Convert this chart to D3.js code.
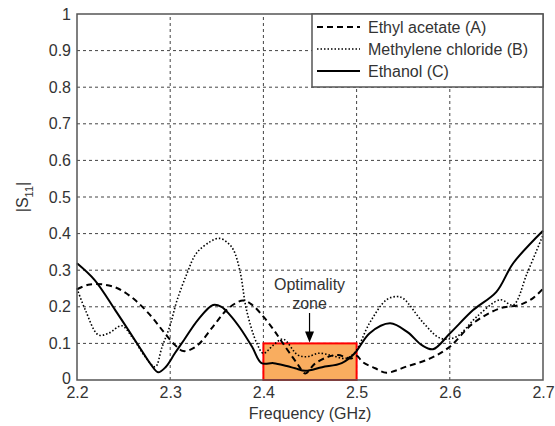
<!DOCTYPE html>
<html>
<head>
<meta charset="utf-8">
<script src="https://cdn.jsdelivr.net/npm/d3@7"></script>
<style>
  body { margin: 0; background: #fff; }
  text { font-family: "Liberation Sans", Arial, sans-serif; fill: #333; }
</style>
</head>
<body>
<div id="chart"></div>
<script>
// S11 curves: [frequency (GHz), |S11|]
var ethylAcetate = [
    [2.200, 0.248], [2.212, 0.260], [2.228, 0.261], [2.244, 0.250], [2.262, 0.219],
    [2.280, 0.173], [2.294, 0.128], [2.305, 0.096], [2.314, 0.079], [2.328, 0.092],
    [2.346, 0.146], [2.362, 0.195], [2.378, 0.217], [2.388, 0.205], [2.400, 0.173],
    [2.411, 0.137], [2.421, 0.100], [2.436, 0.046], [2.445, 0.018], [2.455, 0.044],
    [2.470, 0.064], [2.480, 0.068], [2.494, 0.059], [2.500, 0.066], [2.507, 0.048],
    [2.520, 0.032], [2.532, 0.020], [2.555, 0.038], [2.579, 0.059], [2.600, 0.091],
    [2.625, 0.155], [2.654, 0.196], [2.675, 0.205], [2.690, 0.225], [2.700, 0.250]
];
var methyleneChloride = [
    [2.200, 0.250], [2.209, 0.191], [2.223, 0.123], [2.234, 0.128], [2.248, 0.148],
    [2.259, 0.118], [2.273, 0.064], [2.284, 0.036], [2.291, 0.088], [2.300, 0.150],
    [2.307, 0.215], [2.318, 0.291], [2.328, 0.346], [2.343, 0.378], [2.353, 0.387],
    [2.362, 0.374], [2.368, 0.355], [2.375, 0.296], [2.382, 0.190], [2.393, 0.100],
    [2.400, 0.073], [2.411, 0.096], [2.421, 0.112], [2.437, 0.068], [2.448, 0.064],
    [2.459, 0.073], [2.472, 0.068], [2.488, 0.059], [2.498, 0.075], [2.514, 0.156],
    [2.532, 0.219], [2.543, 0.228], [2.550, 0.223], [2.572, 0.155], [2.590, 0.114],
    [2.607, 0.118], [2.629, 0.173], [2.654, 0.219], [2.668, 0.205], [2.683, 0.292],
    [2.700, 0.396]
];
var ethanol = [
    [2.200, 0.319], [2.219, 0.273], [2.241, 0.191], [2.255, 0.137], [2.269, 0.082],
    [2.280, 0.040], [2.287, 0.021], [2.295, 0.035], [2.305, 0.073], [2.315, 0.110],
    [2.330, 0.165], [2.346, 0.205], [2.355, 0.200], [2.364, 0.178], [2.375, 0.142],
    [2.388, 0.090], [2.398, 0.046], [2.411, 0.046], [2.425, 0.038], [2.434, 0.032],
    [2.445, 0.025], [2.463, 0.035], [2.484, 0.046], [2.498, 0.073], [2.514, 0.128],
    [2.536, 0.155], [2.555, 0.130], [2.570, 0.095], [2.582, 0.084], [2.600, 0.127],
    [2.625, 0.191], [2.650, 0.241], [2.668, 0.319], [2.700, 0.408]
];
var seriesNames = ["Ethyl acetate (A)", "Methylene chloride (B)", "Ethanol (C)"];
var xTicks = [2.2, 2.3, 2.4, 2.5, 2.6, 2.7];
var yTicks = [0, 0.1, 0.2, 0.3, 0.4, 0.5, 0.6, 0.7, 0.8, 0.9, 1];
var zone = { x0: 2.4, x1: 2.5, y0: 0, y1: 0.1 };

var width = 555, height = 426;
var margin = { left: 77, right: 12, top: 14, bottom: 46 };

var svg = d3.select("#chart")
    .append("svg")
    .attr("width", width)
    .attr("height", height);

var x = d3.scaleLinear().domain([2.2, 2.7]).range([margin.left, width - margin.right]);
var y = d3.scaleLinear().domain([0, 1]).range([height - margin.bottom, margin.top]);

var styles = [
    { dash: "6,4", width: 2 },
    { dash: "1.5,2", width: 1.6 },
    { dash: null, width: 2 }
];

//grid
svg.append("g")
    .selectAll("line.vg")
    .data(xTicks.slice(1, -1))
    .enter()
    .append("line")
    .attr("x1", d => x(d)).attr("x2", d => x(d))
    .attr("y1", y(0)).attr("y2", y(1))
    .attr("stroke", "#444")
    .attr("stroke-width", 1)
    .attr("stroke-dasharray", "3,3");
svg.append("g")
    .selectAll("line.hg")
    .data(yTicks.slice(1, -1))
    .enter()
    .append("line")
    .attr("x1", x(2.2)).attr("x2", x(2.7))
    .attr("y1", d => y(d)).attr("y2", d => y(d))
    .attr("stroke", "#444")
    .attr("stroke-width", 1)
    .attr("stroke-dasharray", "3,3");

//optimality zone
svg.append("rect")
    .attr("x", x(zone.x0))
    .attr("y", y(zone.y1))
    .attr("width", x(zone.x1) - x(zone.x0))
    .attr("height", y(zone.y0) - y(zone.y1))
    .attr("fill", "#f9ad5f")
    .attr("stroke", "#ff0000")
    .attr("stroke-width", 2);

//curves
var line = d3.line()
    .x(d => x(d[0]))
    .y(d => y(d[1]))
    .curve(d3.curveCatmullRom.alpha(0.5));

svg.append("g")
    .selectAll("path")
    .data([ethylAcetate, methyleneChloride, ethanol])
    .enter()
    .append("path")
    .attr("d", line)
    .attr("fill", "none")
    .attr("stroke", "#000")
    .attr("stroke-width", (d, i) => styles[i].width)
    .attr("stroke-dasharray", (d, i) => styles[i].dash);

//axes frame
svg.append("rect")
    .attr("x", x(2.2))
    .attr("y", y(1))
    .attr("width", x(2.7) - x(2.2))
    .attr("height", y(0) - y(1))
    .attr("fill", "none")
    .attr("stroke", "#555")
    .attr("stroke-width", 1.5);

var xAxis = svg.append("g")
    .attr("transform", "translate(0," + y(0) + ")")
    .call(d3.axisBottom(x).tickValues(xTicks).tickSize(0).tickPadding(7).tickFormat(d3.format(".1f")));
var yAxis = svg.append("g")
    .attr("transform", "translate(" + x(2.2) + ",0)")
    .call(d3.axisLeft(y).tickValues(yTicks).tickSize(0).tickPadding(6).tickFormat(d => d == 0 || d == 1 ? d : d3.format(".1f")(d)));
[xAxis, yAxis].forEach(function(a) {
    a.select(".domain").remove();
    a.selectAll("text")
        .style("font-size", "16px")
        .style("font-family", "'Liberation Sans', Arial, sans-serif")
        .attr("fill", "#333");
});
// keep the "0" clear of the "2.2" below it
yAxis.selectAll(".tick text").filter(d => d == 0).attr("dy", "0.2em");

//axis labels
svg.append("text")
    .attr("x", x(2.45))
    .attr("y", 419)
    .attr("text-anchor", "middle")
    .style("font-size", "16px")
    .text("Frequency (GHz)");

var yl = svg.append("text")
    .attr("transform", "translate(28," + y(0.5) + ") rotate(-90)")
    .attr("text-anchor", "middle")
    .style("font-size", "16px");
yl.append("tspan").text("|S");
yl.append("tspan").attr("dy", 5).style("font-size", "11px").text("11");
yl.append("tspan").attr("dy", -5).text("|");

//annotation
svg.append("text")
    .attr("x", x(2.4495))
    .attr("y", 290)
    .attr("text-anchor", "middle")
    .style("font-size", "16px")
    .text("Optimality");
svg.append("text")
    .attr("x", x(2.4495))
    .attr("y", 309)
    .attr("text-anchor", "middle")
    .style("font-size", "16px")
    .text("zone");
var ax = x(2.4495), ay = y(zone.y1);
svg.append("line")
    .attr("x1", ax).attr("x2", ax)
    .attr("y1", 313).attr("y2", ay - 10)
    .attr("stroke", "#000")
    .attr("stroke-width", 1.2);
svg.append("path")
    .attr("d", "M" + (ax - 4.5) + "," + (ay - 12) + "L" + (ax + 4.5) + "," + (ay - 12) + "L" + ax + "," + (ay - 1) + "Z")
    .attr("fill", "#000");

//legend
var legend = svg.append("g");
legend.append("rect")
    .attr("x", 312)
    .attr("y", y(1))
    .attr("width", x(2.7) - 312)
    .attr("height", 73)
    .attr("fill", "#fff")
    .attr("stroke", "#555")
    .attr("stroke-width", 1.5);
var item = legend.selectAll("g.item")
    .data(seriesNames)
    .enter()
    .append("g")
    .attr("transform", (d, i) => "translate(0," + (27 + i * 22) + ")");
item.append("line")
    .attr("x1", 317).attr("x2", 360)
    .attr("y1", 0).attr("y2", 0)
    .attr("stroke", "#000")
    .attr("stroke-width", (d, i) => styles[i].width)
    .attr("stroke-dasharray", (d, i) => styles[i].dash);
item.append("text")
    .attr("x", 368)
    .attr("y", 0)
    .attr("dy", "0.35em")
    .style("font-size", "16px")
    .text(d => d);
</script>
</body>
</html>
